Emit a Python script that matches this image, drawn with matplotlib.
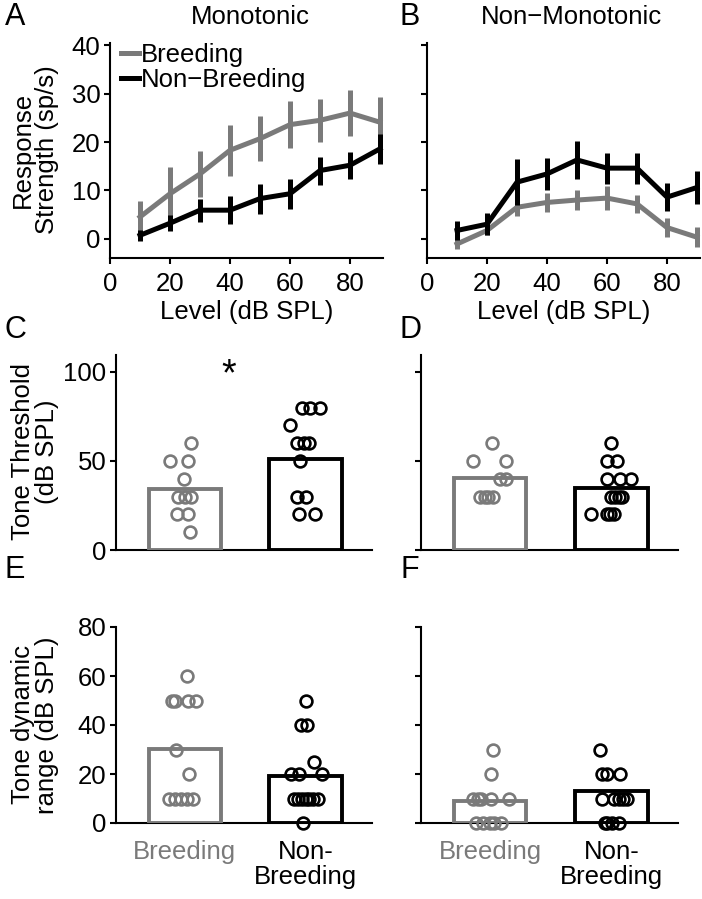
import matplotlib
matplotlib.use("Agg")
import matplotlib.pyplot as plt
import numpy as np
from matplotlib.lines import Line2D

plt.rcParams['font.family'] = ['Liberation Sans', 'DejaVu Sans']
plt.rcParams['axes.linewidth'] = 1.5

GRAY = '#7a7a7a'
BLACK = '#000000'

# ---------------- data ----------------
levels = [10, 20, 30, 40, 50, 60, 70, 80, 90]
mono_breed = [4.5, 9.3, 13.4, 18.3, 20.7, 23.6, 24.5, 26.0, 24.1]
mono_breed_err = [3.4, 5.5, 4.8, 5.3, 4.7, 4.8, 4.5, 4.7, 5.2]
mono_nonbreed = [0.7, 3.2, 5.9, 5.9, 8.3, 9.3, 14.1, 15.2, 18.6]
mono_nonbreed_err = [1.1, 1.7, 2.4, 2.9, 3.1, 3.1, 2.9, 2.8, 3.1]
nonmono_breed = [-1.1, 1.7, 6.5, 7.5, 8.0, 8.4, 7.2, 2.3, 0.3]
nonmono_breed_err = [1.0, 0.9, 1.9, 2.0, 2.0, 2.4, 1.9, 1.9, 2.1]
nonmono_nonbreed = [1.7, 3.0, 11.7, 13.4, 16.3, 14.6, 14.6, 8.6, 10.6]
nonmono_nonbreed_err = [1.9, 2.3, 4.8, 3.3, 3.9, 3.2, 3.2, 2.9, 3.5]

groups = ['Breeding', 'Non-\nBreeding']

thr_mono_means = [34, 51]
thr_nonmono_means = [40.3, 34.6]
dr_mono_means = [30.3, 19]
dr_nonmono_means = [8.8, 12.9]

thr_mono_breed = [60, 50, 50, 40, 30, 30, 30, 20, 20, 10]
thr_mono_breed_jit = [0.05, -0.12, 0.025, -0.01, -0.06, 0.0, 0.05, -0.065, 0.025, 0.045]
thr_mono_non = [80, 80, 80, 70, 60, 60, 60, 50, 30, 30, 20, 20]
thr_mono_non_jit = [-0.03, 0.04, 0.12, -0.13, -0.07, -0.015, 0.03, -0.05, -0.07, 0.0, -0.055, 0.08]

thr_nonmono_breed = [60, 50, 50, 40, 40, 30, 30, 30, 30]
thr_nonmono_breed_jit = [0.014, -0.14, 0.13, 0.08, 0.13, -0.08, -0.04, -0.015, 0.02]
thr_nonmono_non = [60, 50, 50, 40, 40, 40, 30, 30, 30, 30, 20, 20, 20, 20]
thr_nonmono_non_jit = [0.0, -0.035, 0.05, -0.035, 0.07, 0.16, 0.0, 0.03, 0.06, 0.09, -0.17, -0.035, -0.007, 0.02]

dr_mono_breed = [60, 50, 50, 50, 50, 30, 20, 10, 10, 10, 10, 10]
dr_mono_breed_jit = [0.017, -0.11, -0.085, 0.025, 0.095, -0.07, 0.035, -0.13, -0.085, -0.03, 0.017, 0.066]
dr_mono_non = [50, 40, 40, 25, 20, 20, 20, 10, 10, 10, 10, 10, 10, 10, 0]
dr_mono_non_jit = [0.005, -0.04, 0.015, 0.07, -0.12, -0.055, 0.14, -0.1, -0.06, -0.03, 0.0, 0.03, 0.06, 0.1, -0.02]

dr_nonmono_breed = [30, 20, 10, 10, 10, 10, 10, 0, 0, 0, 0, 0]
dr_nonmono_breed_jit = [0.02, 0.01, -0.145, -0.1, -0.075, 0.007, 0.16, -0.12, -0.06, 0.0, 0.035, 0.09]
dr_nonmono_non = [30, 20, 20, 20, 10, 10, 10, 10, 10, 0, 0, 0, 0]
dr_nonmono_non_jit = [-0.09, -0.075, -0.035, 0.075, -0.075, 0.02, 0.06, 0.1, 0.13, -0.05, -0.035, 0.007, 0.06]

# ---------------- figure ----------------
W, H = 702, 899
fig = plt.figure(figsize=(W / 100, H / 100), dpi=100)

def rect(l, t, r, b):
    return [l / W, 1 - b / H, (r - l) / W, (b - t) / H]

FS = 18.5

def style(ax):
    for s in ['top', 'right']:
        ax.spines[s].set_visible(False)
    ax.tick_params(direction='out', length=4, width=1.5, labelsize=FS, pad=3)

# ---- line panels ----
def line_panel(ax, b, be, n, ne, ylabels=True, legend=False):
    style(ax)
    ax.errorbar(levels, b, yerr=be, color=GRAY, lw=3.6, elinewidth=3.6, capsize=0,
                clip_on=False, zorder=3)
    ax.errorbar(levels, n, yerr=ne, color=BLACK, lw=3.6, elinewidth=3.6, capsize=0,
                clip_on=False, zorder=4)
    ax.set_xlim(0, 91)
    ax.set_ylim(-4, 40.5)
    ax.set_xticks([0, 20, 40, 60, 80])
    ax.set_yticks([0, 10, 20, 30, 40])
    ax.tick_params(axis='x', pad=6)
    if not ylabels:
        ax.set_yticklabels([])
    ax.set_xlabel('Level (dB SPL)', fontsize=FS, labelpad=3)
    if legend:
        h = [Line2D([], [], color=GRAY, lw=3.6), Line2D([], [], color=BLACK, lw=3.6)]
        ax.legend(h, ['Breeding', 'Non\u2212Breeding'], loc='upper left',
                  bbox_to_anchor=(0.04, 1.0), frameon=False, fontsize=FS,
                  handlelength=0.7, handletextpad=0.08, labelspacing=0.02,
                  borderaxespad=0, borderpad=0)

axA = fig.add_axes(rect(110, 43, 383, 258))
line_panel(axA, mono_breed, mono_breed_err, mono_nonbreed, mono_nonbreed_err, legend=True)
axB = fig.add_axes(rect(427, 43, 700, 258))
line_panel(axB, nonmono_breed, nonmono_breed_err, nonmono_nonbreed, nonmono_nonbreed_err, ylabels=False)

# ---- bar panels ----
def bar_panel(ax, means, bvals, bjit, nvals, njit, ylim, yticks, ylabels=True, xlabels=False):
    style(ax)
    pos = [1, 2]
    cols = [GRAY, BLACK]
    ax.bar(pos, means, width=0.6, facecolor='white', edgecolor=cols, linewidth=2.8, zorder=3)
    ax.plot(np.array(bjit) + 1, bvals, 'o', ms=8.5, mfc='none', mec=GRAY, mew=1.9,
            clip_on=False, zorder=4)
    ax.plot(np.array(njit) + 2, nvals, 'o', ms=8.5, mfc='none', mec=BLACK, mew=1.9,
            clip_on=False, zorder=4)
    ax.set_xlim(0.43, 2.55)
    ax.set_ylim(*ylim)
    ax.set_yticks(yticks)
    if not ylabels:
        ax.set_yticklabels([])
    ax.set_xticks(pos)
    if xlabels:
        ax.set_xticklabels(groups, fontsize=FS, linespacing=1.08)
        for lab, c in zip(ax.get_xticklabels(), cols):
            lab.set_color(c)
        ax.tick_params(axis='x', length=0, pad=12)
    else:
        ax.set_xticklabels([])
        ax.tick_params(axis='x', length=0)

axC = fig.add_axes(rect(116, 355, 372, 550))
bar_panel(axC, thr_mono_means, thr_mono_breed, thr_mono_breed_jit, thr_mono_non, thr_mono_non_jit,
          (0, 109.5), [0, 50, 100])
axC.text(1.36, 98, '*', fontsize=27, ha='center', va='center', color='black')
axD = fig.add_axes(rect(421, 355, 678, 550))
bar_panel(axD, thr_nonmono_means, thr_nonmono_breed, thr_nonmono_breed_jit, thr_nonmono_non,
          thr_nonmono_non_jit, (0, 109.5), [0, 50, 100], ylabels=False)
axE = fig.add_axes(rect(116, 627, 372, 823))
bar_panel(axE, dr_mono_means, dr_mono_breed, dr_mono_breed_jit, dr_mono_non, dr_mono_non_jit,
          (0, 80), [0, 20, 40, 60, 80], xlabels=True)
axF = fig.add_axes(rect(421, 627, 678, 823))
bar_panel(axF, dr_nonmono_means, dr_nonmono_breed, dr_nonmono_breed_jit, dr_nonmono_non,
          dr_nonmono_non_jit, (0, 80), [0, 20, 40, 60, 80], ylabels=False, xlabels=True)

# ---- texts ----
def ftext(x, y, s, **kw):
    fig.text(x / W, 1 - y / H, s, **kw)

ftext(250, 17, 'Monotonic', fontsize=FS, ha='center', va='center')
ftext(571, 17, 'Non\u2212Monotonic', fontsize=FS, ha='center', va='center')
for lab, x, y in [('A', 15, 17), ('B', 410, 17), ('C', 15, 330), ('D', 410, 330),
                  ('E', 15, 570), ('F', 410, 570)]:
    ftext(x, y, lab, fontsize=22, ha='center', va='center')

ftext(35, 150, 'Response\nStrength (sp/s)', fontsize=FS, rotation=90, ha='center', va='center',
      linespacing=1.05)
ftext(35, 452, 'Tone Threshold\n(dB SPL)', fontsize=FS, rotation=90, ha='center', va='center',
      linespacing=1.05)
ftext(35, 725, 'Tone dynamic\nrange (dB SPL)', fontsize=FS, rotation=90, ha='center', va='center',
      linespacing=1.05)

fig.savefig('out.png', dpi=100)
